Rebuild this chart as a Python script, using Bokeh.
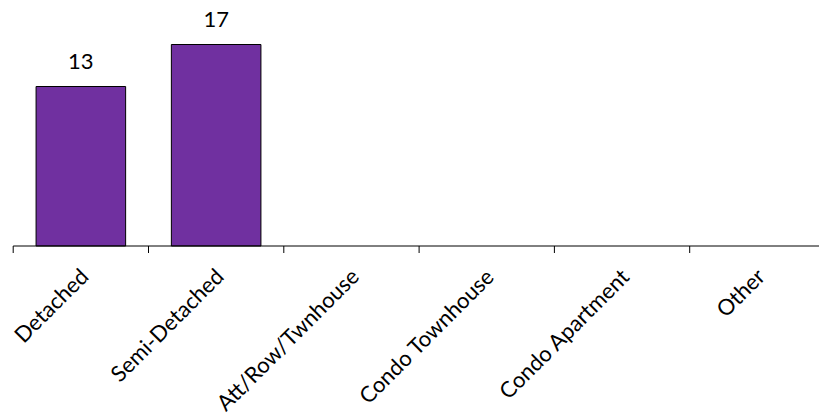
from bokeh.plotting import figure
from bokeh.models import ColumnDataSource, Range1d
from bokeh.embed import file_html
from bokeh.resources import INLINE
from bokeh.core.properties import value
import math

categories = ["Detached", "Semi-Detached", "Att/Row/Twnhouse", "Condo Townhouse", "Condo Apartment", "Other"]
counts = [13, 17, 0, 0, 0, 0]

W, H = 819, 413
CAT_PX = 135.3        # pixels per category
UNIT_PX = 10.5        # pixels per count unit
LEFT_PX = 12.7        # left edge of first category
BASE_PX = 245.5       # baseline position from top
B = -2.19             # value at the baseline

x_start = -LEFT_PX / CAT_PX
x_end = x_start + W / CAT_PX
y_top = B + BASE_PX / UNIT_PX
y_bot = B - (H - BASE_PX) / UNIT_PX

idx = [i for i, c in enumerate(counts) if c > 0]
src = ColumnDataSource(dict(
    x=[i + 0.5 for i in idx],
    top=[counts[i] for i in idx],
    label=[str(counts[i]) for i in idx],
))
cat_src = ColumnDataSource(dict(
    x=[i + 0.5 for i in range(len(categories))],
    y=[B] * len(categories),
    text=categories,
))
n = len(categories)
tick_src = ColumnDataSource(dict(
    x=list(range(n + 1)),
    y0=[B] * (n + 1),
    y1=[B - 7 / UNIT_PX] * (n + 1),
))

p = figure(width=W, height=H, output_backend="svg", toolbar_location=None,
           x_range=Range1d(x_start, x_end), y_range=Range1d(y_bot, y_top),
           x_axis_location=None, y_axis_location=None,
           min_border_left=0, min_border_right=0, min_border_top=0, min_border_bottom=0)
p.outline_line_color = None
p.xgrid.visible = False
p.ygrid.visible = False
p.background_fill_color = "white"
p.border_fill_color = "white"

p.vbar(x="x", top="top", bottom=B, width=0.662, source=src,
       fill_color="#7030A0", line_color="black", line_width=1)
p.text(x="x", y="top", text="label", source=src, text_align="center",
       text_baseline="alphabetic", y_offset=-25, text_font=value("Lato"),
       text_font_size="22px", text_color="black")

# category axis: baseline, boundary ticks and rotated labels
p.segment(x0=[0], y0=[B], x1=[n], y1=[B], line_color="black", line_width=1)
p.segment(x0="x", y0="y0", x1="x", y1="y1", source=tick_src, line_color="black", line_width=1)
p.text(x="x", y="y", text="text", source=cat_src, angle=math.pi / 4,
       text_align="right", text_baseline="alphabetic", x_offset=3, y_offset=26,
       text_font=value("Lato"), text_font_size="22px", text_color="black")

open("out.html", "w").write(file_html(p, INLINE))
